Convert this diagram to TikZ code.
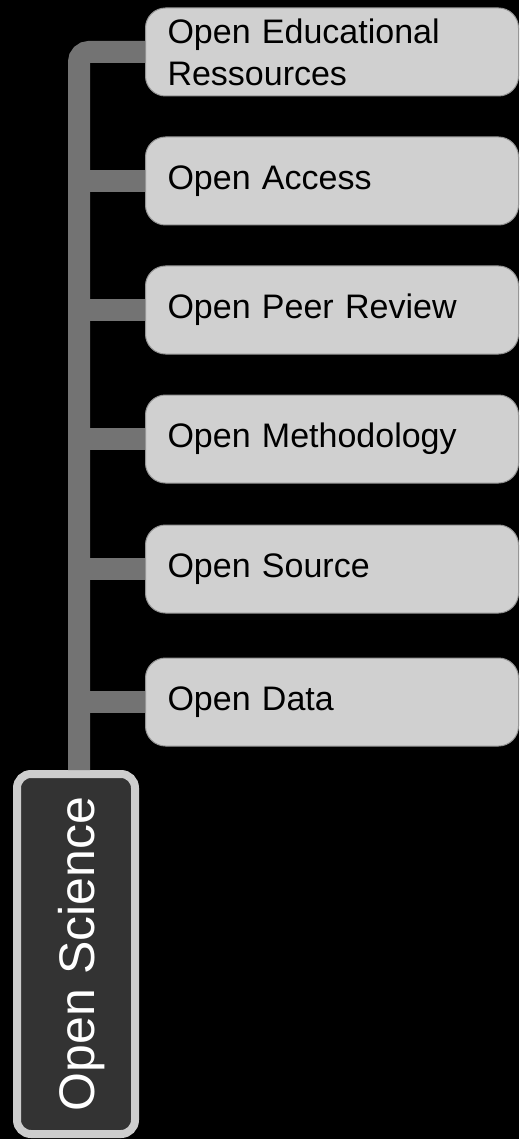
\documentclass[tikz,border=0pt]{standalone}
\usepackage{fontspec}
\setmainfont{Liberation Sans}
\definecolor{leafgray}{RGB}{208,208,208}
\definecolor{rimline}{RGB}{150,150,150}
\definecolor{stemgray}{RGB}{115,115,115}
\definecolor{rootgray}{RGB}{51,51,51}
\definecolor{rootrim}{RGB}{205,205,205}

\begin{document}
\begin{tikzpicture}[x=1pt,y=-1pt,
        leaf/.style={shape=rectangle,rounded corners=20pt,draw=rimline,line width=1pt,fill=leafgray,anchor=west,
                     minimum height=88pt,text width=329pt,inner xsep=22pt,align=left,font=\fontsize{34}{42}\selectfont},
        topic/.style={shape=rectangle,rounded corners=14pt,draw=rootrim,line width=8pt,fill=rootgray,text=white,rotate=90,
                      minimum width=360pt,minimum height=118pt,inner sep=0pt,text height=36pt,text depth=0pt,
                      font=\fontsize{50}{60}\selectfont},
        stem/.style={draw=stemgray,line width=22pt}]
        \fill[black] (0,0) rectangle (519,1139);
        \useasboundingbox (0,0) rectangle (519,1139);

        \node[leaf] (oer) at (145, 52)     {Open Educational\\Ressources};
        \node[leaf] (access) at (145, 181)     {Open Access};
        \node[leaf] (review) at (145, 310)     {Open Peer Review};
        \node[leaf] (method) at (145, 439)     {Open Methodology};
        \node[leaf] (source) at (145, 569)     {Open Source};
        \node[leaf] (data) at (145, 702)     {Open Data};
        \node[topic] (science) at (76, 954)     {Open Science};
        \coordinate (trunk) at (79, 770);

	\draw[stem,rounded corners=10pt] (oer.west) -| (trunk);
	\draw[stem] (access.west) -- (access.west -| trunk);
	\draw[stem] (review.west) -- (review.west -| trunk);
	\draw[stem] (method.west) -- (method.west -| trunk);
	\draw[stem] (source.west) -- (source.west -| trunk);
	\draw[stem] (data.west) -- (data.west -| trunk);
	\end{tikzpicture}
\end{document}
